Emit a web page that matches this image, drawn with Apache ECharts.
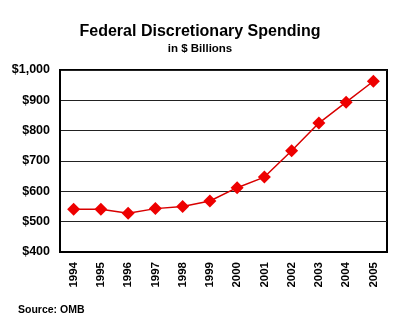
<!DOCTYPE html>
<html><head><meta charset="utf-8">
<script src="https://cdn.jsdelivr.net/npm/echarts@6/dist/echarts.min.js"></script>
<style>html,body{margin:0;padding:0;background:#fff}#c{width:400px;height:324px}</style>
</head><body><div id="c"></div>
<script>
const years = ['1994','1995','1996','1997','1998','1999','2000','2001','2002','2003','2004','2005'];
const spending = [541, 541, 528, 543, 550, 568, 612, 647, 734, 825, 894, 963];
const yTicks = [400, 500, 600, 700, 800, 900, 1000];

const chart = echarts.init(document.getElementById('c'));
const font = 'Liberation Sans, Arial, sans-serif';
chart.setOption({
  animation: false,
  backgroundColor: '#fff',
  title: [
    {text: 'Federal Discretionary Spending', left: 'center', top: 19,
     textStyle: {fontFamily: font, fontSize: 16, fontWeight: 'bold', color: '#000'}},
    {text: 'in $ Billions', left: 'center', top: 38, padding: [5, 5, 5, 3],
     textStyle: {fontFamily: font, fontSize: 11.5, fontWeight: 'bold', color: '#000'}},
    {text: 'Source: OMB', left: 13, top: 300,
     textStyle: {fontFamily: font, fontSize: 10.5, fontWeight: 'bold', color: '#000'}}
  ],
  grid: {left: 60, top: 70, right: 13, bottom: 72, show: true, borderColor: '#000', borderWidth: 2, backgroundColor: 'transparent'},
  xAxis: {
    type: 'category', data: years, boundaryGap: true,
    axisLine: {show: true, lineStyle: {color: '#000', width: 2}},
    axisTick: {show: false},
    axisLabel: {rotate: 90, margin: 10, fontFamily: font, fontSize: 11.5, fontWeight: 'bold', color: '#000'}
  },
  yAxis: {
    type: 'value', min: yTicks[0], max: yTicks[yTicks.length-1], interval: 100,
    axisLine: {show: true, lineStyle: {color: '#000', width: 2}},
    axisTick: {show: false},
    splitLine: {lineStyle: {color: '#222', width: 1}},
    axisLabel: {margin: 10, fontFamily: font, fontSize: 12.5, fontWeight: 'bold', color: '#000',
      formatter: v => '$' + (v >= 1000 ? Math.floor(v/1000) + ',' + String(v%1000).padStart(3,'0') : v)}
  },
  series: [{
    type: 'line', data: spending,
    symbol: 'diamond', symbolSize: 13,
    lineStyle: {color: '#d80000', width: 1.5},
    itemStyle: {color: '#ee0000'}
  }]
});
</script></body></html>
